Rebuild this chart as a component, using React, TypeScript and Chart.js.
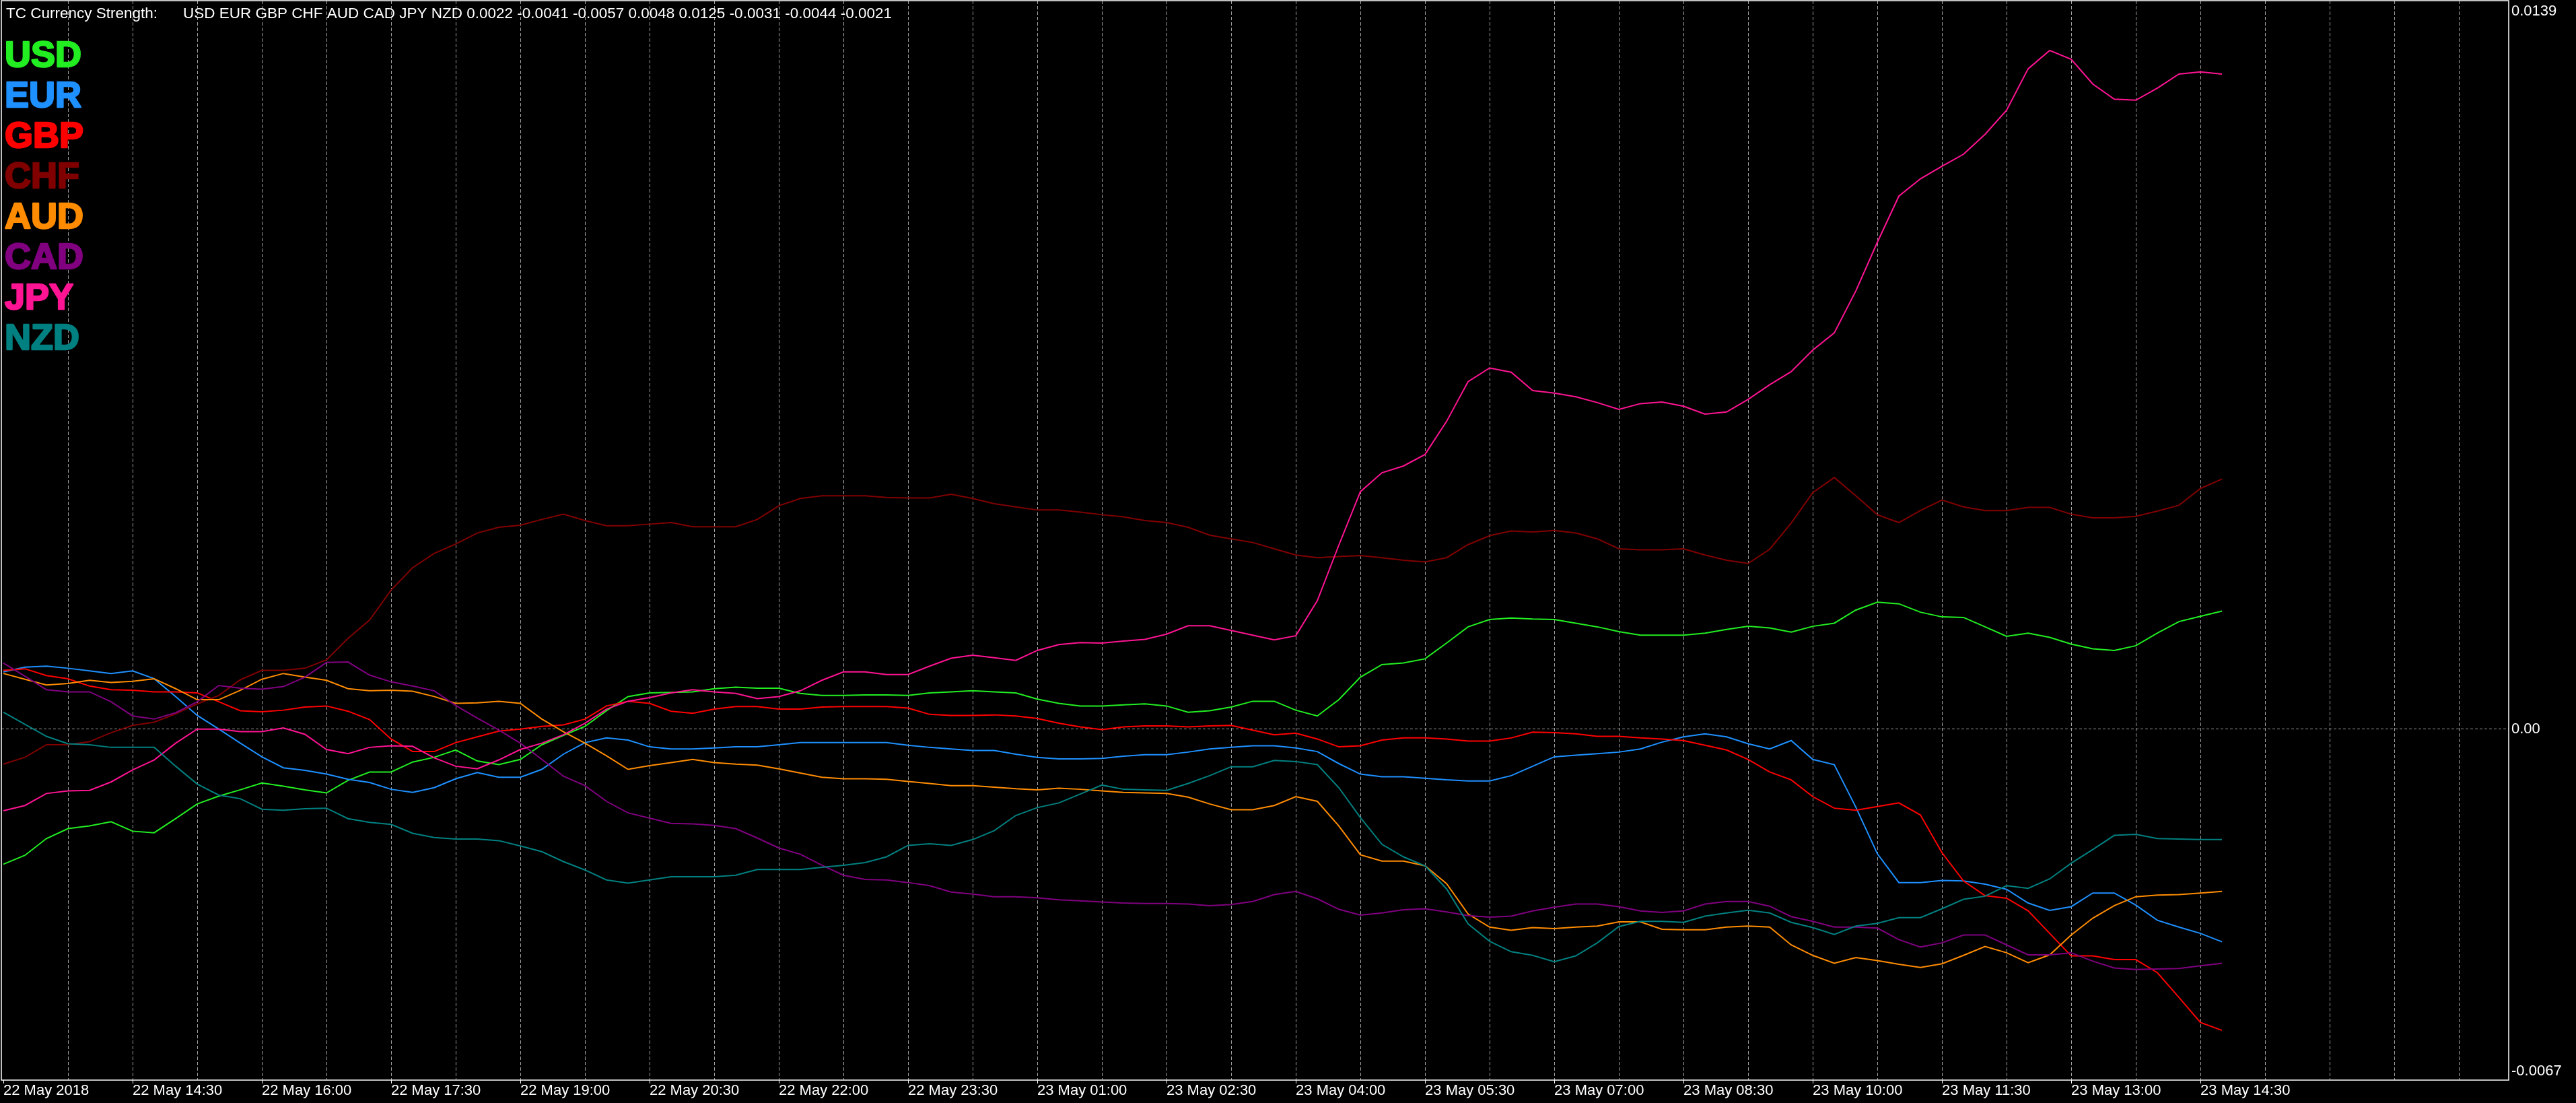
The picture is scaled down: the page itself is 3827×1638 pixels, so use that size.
import React, { useEffect, useRef } from "react";
import { Chart, registerables } from "chart.js";

Chart.register(...registerables);

const CANVAS_W = 3827;
const CANVAS_H = 1638;

// x-axis: one point per 15-minute bar, starting 22 May 2018 13:00
const TIME_LABELS = [
  "22 May 2018", "22 May 14:30", "22 May 16:00", "22 May 17:30", "22 May 19:00",
  "22 May 20:30", "22 May 22:00", "22 May 23:30", "23 May 01:00", "23 May 02:30",
  "23 May 04:00", "23 May 05:30", "23 May 07:00", "23 May 08:30", "23 May 10:00",
  "23 May 11:30", "23 May 13:00", "23 May 14:30",
];
const BARS_PER_LABEL = 6;
const BARS_PER_GRID = 3;

const CURRENCIES = ["USD", "EUR", "GBP", "CHF", "AUD", "CAD", "JPY", "NZD"];

// strength values, in units of 0.0001
const USD = [
  -25.8, -24.1, -20.9, -19.0, -18.5, -17.7, -19.5, -19.8, -17.1, -14.3,
  -12.8, -11.6, -10.3, -10.9, -11.6, -12.2, -9.8, -8.2, -8.2, -6.3,
  -5.4, -4.0, -6.1, -6.8, -5.8, -3.0, -1.2, 0.5, 3.5, 6.2,
  6.9, 7.0, 7.1, 7.7, 8.0, 7.8, 7.8, 6.8, 6.4, 6.4,
  6.5, 6.5, 6.4, 6.9, 7.1, 7.3, 7.1, 6.9, 5.7, 4.9,
  4.4, 4.4, 4.6, 4.8, 4.4, 3.2, 3.5, 4.2, 5.3, 5.3,
  3.6, 2.5, 5.6, 9.9, 12.3, 12.6, 13.4, 16.4, 19.5, 20.9,
  21.2, 21.0, 20.9, 20.2, 19.5, 18.6, 17.9, 17.9, 17.9, 18.3,
  19.0, 19.6, 19.3, 18.5, 19.6, 20.2, 22.7, 24.2, 23.9, 22.3,
  21.4, 21.3, 19.5, 17.7, 18.3, 17.5, 16.2, 15.3, 15.0, 15.9,
  18.3, 20.5, 21.5, 22.5,
];
const EUR = [
  10.9, 11.8, 12.0, 11.6, 11.1, 10.6, 11.1, 9.6, 6.2, 2.6,
  0.0, -2.7, -5.3, -7.4, -7.9, -8.6, -9.6, -10.2, -11.5, -12.1,
  -11.2, -9.5, -8.3, -9.2, -9.2, -7.7, -4.8, -2.6, -1.7, -2.1,
  -3.4, -3.8, -3.8, -3.6, -3.4, -3.4, -3.0, -2.6, -2.6, -2.6,
  -2.6, -2.6, -3.1, -3.5, -3.8, -4.1, -4.1, -4.8, -5.4, -5.7,
  -5.7, -5.6, -5.2, -4.9, -4.9, -4.4, -3.8, -3.5, -3.2, -3.2,
  -3.6, -4.3, -6.6, -8.6, -9.1, -9.1, -9.4, -9.7, -9.9, -9.9,
  -8.9, -7.1, -5.3, -5.0, -4.7, -4.4, -3.8, -2.5, -1.5, -0.9,
  -1.5, -2.8, -3.8, -2.2, -5.8, -6.8, -14.9, -23.8, -29.3, -29.3,
  -28.9, -29.0, -29.6, -30.6, -33.2, -34.6, -33.9, -31.3, -31.3, -33.6,
  -36.5, -37.8, -39.0, -40.6,
];
const GBP = [
  11.2, 11.5, 10.2, 9.6, 8.2, 7.5, 7.4, 7.1, 7.1, 6.9,
  5.2, 3.5, 3.3, 3.6, 4.2, 4.4, 3.4, 1.8, -1.9, -4.3,
  -4.3, -2.6, -1.5, -0.4, 0.0, 0.5, 0.8, 1.9, 4.4, 5.3,
  4.9, 3.4, 3.0, 3.8, 4.3, 4.3, 3.8, 3.8, 4.2, 4.3,
  4.3, 4.3, 4.0, 2.8, 2.6, 2.6, 2.7, 2.5, 2.0, 1.1,
  0.4, -0.1, 0.4, 0.6, 0.6, 0.4, 0.6, 0.7, -0.2, -1.1,
  -0.8, -1.9, -3.4, -3.2, -2.1, -1.7, -1.7, -1.9, -2.3, -2.3,
  -1.7, -0.6, -0.7, -0.9, -1.4, -1.4, -1.7, -1.9, -2.2, -3.1,
  -4.0, -5.8, -8.2, -9.7, -12.9, -15.1, -15.5, -14.8, -14.1, -16.4,
  -23.6, -29.0, -31.8, -32.3, -34.7, -39.0, -43.3, -43.3, -44.0, -44.0,
  -46.5, -51.2, -56.0, -57.5,
];
const CHF = [
  -6.7, -5.4, -3.0, -3.0, -2.4, -0.7, 0.7, 1.3, 2.9, 4.8,
  6.4, 9.4, 11.2, 11.2, 11.6, 13.2, 17.3, 20.8, 26.5, 30.8,
  33.5, 35.3, 37.4, 38.5, 38.9, 40.0, 41.0, 39.8, 38.8, 38.8,
  39.1, 39.4, 38.6, 38.6, 38.6, 40.0, 42.6, 44.0, 44.5, 44.5,
  44.5, 44.2, 44.1, 44.1, 44.8, 44.0, 43.0, 42.4, 41.8, 41.8,
  41.4, 40.9, 40.5, 39.8, 39.4, 38.5, 37.0, 36.3, 35.6, 34.4,
  33.2, 32.7, 32.9, 33.1, 32.7, 32.2, 31.9, 32.7, 35.2, 36.9,
  37.8, 37.6, 37.9, 37.4, 36.3, 34.4, 34.2, 34.2, 34.4, 33.2,
  32.2, 31.6, 34.3, 39.3, 45.1, 48.0, 44.5, 40.9, 39.4, 41.7,
  43.7, 42.4, 41.7, 41.7, 42.3, 42.3, 41.0, 40.3, 40.3, 40.6,
  41.6, 42.7, 45.9, 47.7,
];
const AUD = [
  10.6, 9.5, 8.4, 8.7, 9.3, 8.9, 9.1, 9.6, 7.7, 5.6,
  5.6, 7.4, 9.5, 10.6, 9.9, 9.3, 7.7, 7.3, 7.4, 7.2,
  6.2, 4.9, 5.0, 5.3, 4.9, 1.9, -0.5, -2.7, -5.1, -7.7,
  -7.0, -6.4, -5.8, -6.4, -6.7, -6.9, -7.6, -8.4, -9.2, -9.5,
  -9.5, -9.6, -10.0, -10.4, -10.8, -10.8, -11.1, -11.4, -11.6, -11.3,
  -11.5, -11.8, -12.1, -12.2, -12.3, -13.0, -14.3, -15.4, -15.4, -14.6,
  -12.9, -13.8, -18.5, -24.0, -25.2, -25.2, -26.1, -29.5, -35.3, -37.8,
  -38.4, -37.9, -38.1, -37.8, -37.6, -36.8, -36.8, -38.2, -38.3, -38.3,
  -37.8, -37.6, -37.8, -41.2, -43.2, -44.7, -43.6, -44.2, -44.9, -45.5,
  -44.8, -43.2, -41.5, -42.7, -44.6, -43.1, -39.3, -36.1, -33.7, -32.0,
  -31.7, -31.6, -31.3, -31.0,
];
const CAD = [
  12.6, 10.1, 7.5, 7.1, 7.1, 5.2, 2.5, 1.9, 3.1, 5.2,
  8.3, 7.8, 7.6, 8.1, 9.9, 12.7, 12.8, 10.3, 9.0, 8.2,
  7.3, 4.5, 2.1, -0.2, -2.7, -5.8, -9.0, -10.8, -13.8, -16.0,
  -17.0, -18.0, -18.1, -18.4, -19.0, -20.8, -22.7, -23.9, -26.0, -27.9,
  -28.7, -28.8, -29.3, -29.9, -31.1, -31.5, -32.0, -32.0, -32.2, -32.6,
  -32.8, -33.0, -33.2, -33.3, -33.3, -33.4, -33.7, -33.5, -32.9, -31.6,
  -31.0, -32.4, -34.4, -35.5, -35.1, -34.5, -34.3, -34.9, -35.6, -35.9,
  -35.7, -34.7, -34.0, -33.4, -33.4, -33.9, -34.7, -35.0, -34.7, -33.4,
  -32.9, -32.9, -33.8, -35.8, -36.7, -37.8, -37.8, -38.0, -40.2, -41.6,
  -40.8, -39.3, -39.3, -41.2, -43.1, -43.1, -42.7, -44.3, -45.6, -45.9,
  -45.8, -45.7, -45.2, -44.7,
];
const JPY = [
  -15.6, -14.6, -12.3, -11.8, -11.7, -10.1, -7.8, -5.9, -2.7, 0.0,
  0.0, -0.5, -0.5, 0.2, -1.0, -3.9, -4.7, -3.5, -3.2, -3.3,
  -5.5, -7.1, -7.6, -5.9, -3.9, -2.7, -1.1, 1.1, 3.8, 5.3,
  6.0, 6.9, 7.5, 7.1, 6.8, 5.8, 6.2, 7.3, 9.3, 10.9,
  10.9, 10.4, 10.4, 12.0, 13.5, 14.1, 13.6, 13.1, 15.0, 16.1,
  16.5, 16.4, 16.8, 17.1, 18.1, 19.7, 19.7, 18.8, 17.9, 17.0,
  17.8, 24.5, 35.1, 45.3, 48.9, 50.2, 52.4, 58.7, 66.3, 68.9,
  68.1, 64.6, 64.1, 63.4, 62.3, 61.0, 62.1, 62.4, 61.6, 60.1,
  60.5, 62.9, 65.7, 68.2, 72.3, 75.6, 83.6, 92.9, 101.7, 105.0,
  107.4, 109.7, 113.5, 118.1, 126.0, 129.5, 127.8, 123.1, 120.2, 120.0,
  122.3, 125.0, 125.4, 125.0,
];
const NZD = [
  3.2, 0.9, -1.4, -2.8, -3.0, -3.5, -3.5, -3.5, -7.1, -10.5,
  -12.6, -13.3, -15.3, -15.5, -15.2, -15.1, -17.1, -17.8, -18.2, -19.9,
  -20.7, -21.0, -21.0, -21.3, -22.3, -23.4, -25.3, -26.9, -28.8, -29.4,
  -28.8, -28.2, -28.2, -28.2, -27.9, -26.8, -26.8, -26.8, -26.4, -26.0,
  -25.5, -24.4, -22.2, -21.9, -22.2, -21.1, -19.4, -16.5, -15.0, -14.1,
  -12.4, -10.7, -11.5, -11.6, -11.7, -10.4, -8.9, -7.2, -7.2, -6.0,
  -6.2, -6.8, -11.2, -16.9, -22.0, -24.4, -26.1, -30.5, -37.2, -40.5,
  -42.5, -43.2, -44.4, -43.3, -40.8, -37.7, -36.7, -36.7, -36.9, -35.7,
  -35.1, -34.6, -35.1, -36.9, -37.9, -39.2, -37.6, -37.1, -36.0, -36.0,
  -34.3, -32.5, -31.9, -29.9, -30.4, -28.6, -25.6, -23.0, -20.3, -20.1,
  -20.9, -21.0, -21.1, -21.1,
];
const VALUE_UNIT = 0.0001;

const SERIES = [USD, EUR, GBP, CHF, AUD, CAD, JPY, NZD];

// text shown in the indicator header and on the price scale
const TITLE_NAME = "TC Currency Strength:";
const TITLE_VALUES = ["0.0022", "-0.0041", "-0.0057", "0.0048", "0.0125", "-0.0031", "-0.0044", "-0.0021"];
const Y_MIN = -0.0067;
const Y_MAX = 0.0139;
const Y_LABEL_MAX = "0.0139";
const Y_LABEL_ZERO = "0.00";
const Y_LABEL_MIN = "-0.0067";

// styles
const COLORS = ["#22ee22", "#1e90ff", "#ff0000", "#800000", "#ff8c00", "#800080", "#ff1493", "#008080"];
const GRID_COLOR = "#a0a0a0";
const FONT = '"Liberation Sans", Arial, sans-serif';

// x range in bars (32 px per bar)
const X_MIN = -0.094;
const X_MAX = 116.31;

const overlayPlugin = {
  id: "mtOverlay",
  afterDraw(chart: any) {
    const { ctx, chartArea: a, scales } = chart;
    ctx.save();
    // frame
    ctx.strokeStyle = "#ffffff";
    ctx.lineWidth = 1.5;
    ctx.strokeRect(a.left, a.top, a.right - a.left, a.bottom - a.top);

    // header
    ctx.fillStyle = "#ffffff";
    ctx.font = `22.5px ${FONT}`;
    ctx.textAlign = "left";
    ctx.textBaseline = "alphabetic";
    ctx.fillText(TITLE_NAME, a.left + 7, a.top + 26);
    ctx.fillText([...CURRENCIES, ...TITLE_VALUES].join(" "), a.left + 270, a.top + 26);

    // currency legend
    ctx.font = `bold 54px ${FONT}`;
    ctx.lineWidth = 2.5;
    ctx.lineJoin = "round";
    CURRENCIES.forEach((c, i) => {
      ctx.fillStyle = COLORS[i];
      ctx.strokeStyle = COLORS[i];
      const ty = a.top + 98 + i * 60;
      ctx.fillText(c, a.left + 5, ty);
      ctx.strokeText(c, a.left + 5, ty);
    });

    // price scale labels
    const y = scales.y;
    ctx.font = `22px ${FONT}`;
    ctx.fillStyle = "#ffffff";
    ctx.textBaseline = "middle";
    const lx = a.right + 4;
    ctx.fillText(Y_LABEL_MAX, lx, y.getPixelForValue(Y_MAX) + 16);
    ctx.fillText(Y_LABEL_ZERO, lx, y.getPixelForValue(0));
    ctx.fillText(Y_LABEL_MIN, lx, y.getPixelForValue(Y_MIN) - 13);
    ctx.restore();
  },
};

export default function App() {
  const canvasRef = useRef<HTMLCanvasElement | null>(null);

  useEffect(() => {
    const canvas = canvasRef.current;
    if (!canvas) return;

    const datasets = CURRENCIES.map((name, i) => ({
      label: name,
      data: SERIES[i].map((v, idx) => ({ x: idx, y: v * VALUE_UNIT })),
      borderColor: COLORS[i],
      backgroundColor: COLORS[i],
      borderWidth: 2,
      pointRadius: 0,
      pointHoverRadius: 0,
      tension: 0,
      fill: false,
      order: CURRENCIES.length - i,
    }));

    const chart = new Chart(canvas, {
      type: "line",
      data: { datasets },
      options: {
        animation: false,
        responsive: false,
        devicePixelRatio: 1,
        events: [],
        layout: { padding: { left: 2, top: 1, right: 0, bottom: 0 } },
        plugins: {
          legend: { display: false },
          tooltip: { enabled: false },
          title: { display: false },
        },
        scales: {
          x: {
            type: "linear",
            position: "bottom",
            min: X_MIN,
            max: X_MAX,
            afterBuildTicks: (scale: any) => {
              const ticks = [];
              for (let b = 0; b <= X_MAX; b += BARS_PER_GRID) ticks.push({ value: b });
              scale.ticks = ticks;
            },
            afterFit: (scale: any) => {
              scale.height = 34;
            },
            ticks: {
              autoSkip: false,
              maxRotation: 0,
              minRotation: 0,
              align: "start",
              padding: 0,
              color: "#ffffff",
              font: { family: FONT, size: 22, lineHeight: 1 },
              callback: (value: any) => {
                const v = Number(value);
                if (v % BARS_PER_LABEL !== 0) return "";
                const k = v / BARS_PER_LABEL;
                return k < TIME_LABELS.length ? TIME_LABELS[k] : "";
              },
            },
            grid: {
              display: true,
              drawOnChartArea: true,
              drawTicks: true,
              tickLength: 5,
              lineWidth: 1,
              color: (ctx: any) => (ctx.tick && ctx.tick.value === 0 ? "rgba(0,0,0,0)" : GRID_COLOR),
              tickColor: (ctx: any) => {
                const v = ctx.tick ? ctx.tick.value : -1;
                return v % BARS_PER_LABEL === 0 && v / BARS_PER_LABEL < TIME_LABELS.length ? "#ffffff" : "rgba(0,0,0,0)";
              },
              tickWidth: 1,
            },
            border: { display: false, dash: [5, 3] },
          },
          y: {
            type: "linear",
            position: "right",
            min: Y_MIN,
            max: Y_MAX,
            afterBuildTicks: (scale: any) => {
              scale.ticks = [{ value: 0 }];
            },
            afterFit: (scale: any) => {
              scale.width = 100;
            },
            ticks: { display: false },
            grid: {
              display: true,
              drawTicks: false,
              lineWidth: 1,
              color: GRID_COLOR,
            },
            border: { display: false, dash: [4, 3] },
          },
        },
      },
      plugins: [overlayPlugin],
    } as any);

    return () => {
      chart.destroy();
    };
  }, []);

  return (
    <div
      style={{
        position: "fixed",
        left: 0,
        top: 0,
        width: CANVAS_W,
        height: CANVAS_H,
        background: "#000000",
        overflow: "hidden",
      }}
    >
      <canvas ref={canvasRef} width={CANVAS_W} height={CANVAS_H} style={{ display: "block" }} />
    </div>
  );
}
